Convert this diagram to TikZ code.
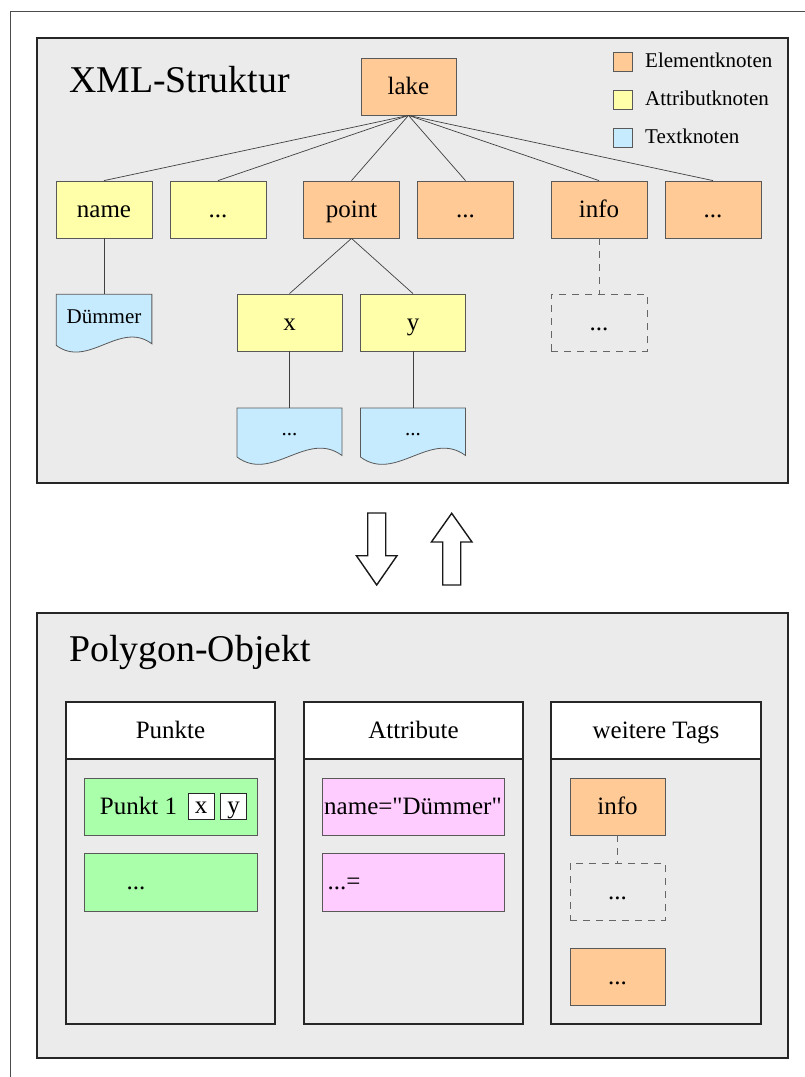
\documentclass[tikz,border=0pt]{standalone}
\usepackage{fontspec}
\setmainfont{Liberation Serif}[Ligatures=TeXOff]
\definecolor{elemC}{HTML}{FFCA96}
\definecolor{attrC}{HTML}{FFFFAA}
\definecolor{textC}{HTML}{C6EBFF}
\definecolor{greenC}{HTML}{AAFFAA}
\definecolor{pinkC}{HTML}{FFCCFF}
\definecolor{bgC}{HTML}{EBEBEB}
\newcommand\fsz[1]{\fontsize{#1}{#1}\selectfont}
% doc shape: cx, top, width, height(side), amplitude control
\newcommand\docshape[5]{%
  \draw[docline] (#1-#3/2,#2) -- (#1+#3/2,#2) -- (#1+#3/2,#2+#4-1.5)
    .. controls (#1+#3/6,#2+#4-1.5-#5) and (#1-#3/6,#2+#4+#5) .. (#1-#3/2,#2+#4) -- cycle;}
\begin{document}
\begin{tikzpicture}[x=1pt,y=-1pt,
  container/.style={draw=black!85, line width=1.8pt, fill=bgC},
  bx/.style={draw=black!65, line width=0.8pt, inner sep=0pt, minimum width=96pt, minimum height=57pt,
    font=\fsz{25}, text height=18.75pt, text depth=3.75pt},
  elem/.style={bx, fill=elemC},
  attr/.style={bx, fill=attrC},
  dashbox/.style={bx, draw=black!60, dash pattern=on 7pt off 6pt},
  docline/.style={draw=black!65, line width=0.8pt, fill=textC},
  doctext/.style={inner sep=0pt, font=\fsz{21}, text height=15.75pt, text depth=3.15pt},
  link/.style={draw=black!75, line width=0.7pt},
  dlink/.style={draw=black!60, line width=0.8pt, dash pattern=on 7pt off 6pt},
  legsq/.style={draw=black!65, line width=0.8pt, minimum size=19pt, inner sep=0pt},
  legtext/.style={anchor=west, inner sep=0pt, font=\fsz{21}, text height=15.75pt, text depth=3.15pt},
  title/.style={anchor=base west, inner sep=0pt, font=\fsz{37.8}},
  colbox/.style={draw=black!85, line width=1.1pt, inner sep=0pt, font=\fsz{25}, text height=18.75pt, text depth=3.75pt},
  smallbox/.style={draw=black!85, line width=0.8pt, fill=white, minimum size=26pt, inner sep=0pt,
    font=\fsz{25}, text height=18.75pt, text depth=3.75pt},
  plain/.style={inner sep=0pt, font=\fsz{25}, text height=18.75pt, text depth=3.75pt},
  bigarrow/.style={draw=black!90, line width=1.4pt, line join=miter, fill=white}
]
\useasboundingbox (0,0) rectangle (805,1077);
% outer frame
\draw[black!70, line width=0.8pt] (805,11.5) -- (10,11.5) -- (10,1077);

% ===== top container =====
\draw[container] (37,38) rectangle (788,483);
\node[title] (t1) at (69,92.7) {XML-Struktur};

% legend
\node[legsq, fill=elemC] (lg1) at (622.5,61.5) {};
\node[legsq, fill=attrC] (lg2) at (622.5,99.5) {};
\node[legsq, fill=textC] (lg3) at (622.5,137.5) {};
\node[legtext] (lt1) at (645,61.5) {Elementknoten};
\node[legtext] (lt2) at (645,99.5) {Attributknoten};
\node[legtext] (lt3) at (645,137.5) {Textknoten};

% tree nodes
\node[elem, minimum width=95pt] (lake) at (408.5,86.5) {lake};
\node[attr] (name) at (104,209.5) {name};
\node[attr] (adots) at (218,209.5) {...};
\node[elem] (point) at (351.5,209.5) {point};
\node[elem] (edots1) at (465.5,209.5) {...};
\node[elem] (info) at (599,209.5) {info};
\node[elem] (edots2) at (713,209.5) {...};

\node[attr, minimum width=105pt] (x) at (289.5,322.5) {x};
\node[attr, minimum width=105pt] (y) at (413,322.5) {y};
\node[dashbox] (idots) at (599,322.5) {...};

% text (document) nodes
\docshape{104}{294.3}{95.7}{51}{24}
\node[doctext, minimum width=95.7pt, minimum height=45pt] (dummer) at (104,316.8) {Dümmer};
\docshape{289.5}{408}{105}{49}{26}
\node[doctext, minimum width=105pt, minimum height=43pt] (xtext) at (289.5,429.5) {...};
\docshape{413}{408}{105}{49}{26}
\node[doctext, minimum width=105pt, minimum height=43pt] (ytext) at (413,429.5) {...};

% connectors
\foreach \n in {name,adots,point,edots1,info,edots2}
  \draw[link] (lake.south) -- (\n.north);
\draw[link] (point.south) -- (x.north);
\draw[link] (point.south) -- (y.north);
\draw[link] (name.south) -- (dummer.north);
\draw[link] (x.south) -- (xtext.north);
\draw[link] (y.south) -- (ytext.north);
\draw[dlink] (info.south) -- (idots.north);

% ===== arrows =====
\draw[bigarrow] (367.7,513) -- (385.7,513) -- (385.7,555.7) -- (397,555.7) -- (376.7,585)
  -- (356.4,555.7) -- (367.7,555.7) -- cycle;
\draw[bigarrow] (442.7,585) -- (460.7,585) -- (460.7,542) -- (472,542) -- (451.7,513.3)
  -- (431.4,542) -- (442.7,542) -- cycle;

% ===== bottom container =====
\draw[container] (37,613) rectangle (788,1058);
\node[title] (t2) at (69,661.7) {Polygon-Objekt};

% columns
\node[colbox, fill=bgC, minimum width=209pt, minimum height=265pt] (pb) at (170.5,891.5) {};
\node[colbox, fill=white, minimum width=209pt, minimum height=57pt] (ph) at (170.5,730.5) {Punkte};
\node[colbox, fill=bgC, minimum width=219pt, minimum height=265pt] (ab) at (413.5,891.5) {};
\node[colbox, fill=white, minimum width=219pt, minimum height=57pt] (ah) at (413.5,730.5) {Attribute};
\node[colbox, fill=bgC, minimum width=210pt, minimum height=265pt] (wb) at (656,891.5) {};
\node[colbox, fill=white, minimum width=210pt, minimum height=57pt] (wh) at (656,730.5) {weitere Tags};

% Punkte content
\node[bx, fill=greenC, minimum width=173pt] (g1) at (170.5,806.5) {};
\node[plain] (p1t) at (138.5,806.5) {Punkt 1};
\node[smallbox] (p1x) at (201,806) {x};
\node[smallbox] (p1y) at (233.5,806) {y};
\node[bx, fill=greenC, minimum width=173pt, minimum height=58pt] (g2) at (170.5,882) {};
\node[plain] (g2t) at (136,882) {...};

% Attribute content
\node[bx, fill=pinkC, minimum width=182pt] (a1) at (413,806.5) {name="Dümmer"};
\node[bx, fill=pinkC, minimum width=182pt, minimum height=58pt] (a2) at (413,882) {};
\node[plain, anchor=west] (a2t) at (327.5,882) {...=};

% weitere Tags content
\node[elem, minimum width=95pt] (winfo) at (617.5,806.5) {info};
\node[dashbox, minimum width=95pt] (wdots) at (617.5,891.5) {...};
\node[elem, minimum width=95pt] (wmore) at (617.5,976.5) {...};
\draw[dlink] (winfo.south) -- (wdots.north);
\end{tikzpicture}
\end{document}
